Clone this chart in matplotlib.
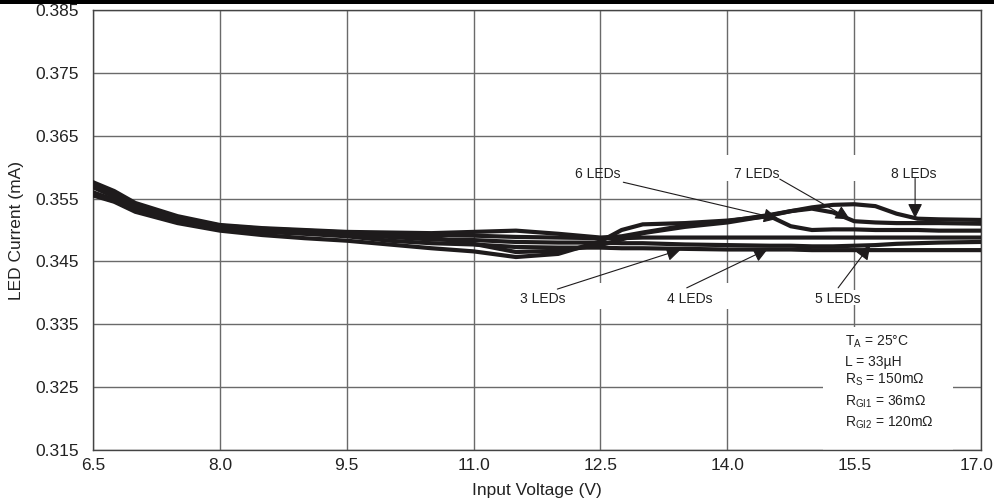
import matplotlib
matplotlib.use("Agg")
import matplotlib.pyplot as plt
from matplotlib.patches import Rectangle
from matplotlib.transforms import ScaledTranslation

plt.rcParams['font.family'] = ['Liberation Sans', 'DejaVu Sans']
plt.rcParams['mathtext.fontset'] = 'custom'
plt.rcParams['mathtext.rm'] = 'Liberation Sans'
plt.rcParams['mathtext.it'] = 'Liberation Sans'

# Input voltage sweep (V)
vin = [6.5, 6.75, 7.0, 7.5, 8.0, 8.5, 9.0, 9.5, 10.0, 10.5, 11.0, 11.5, 12.0,
       12.5, 12.75, 13.0, 13.5, 14.0, 14.5, 14.75, 15.0, 15.25, 15.5, 15.75,
       16.0, 16.25, 16.5, 17.0]

# LED current (mA) for each string length
i_3led = [0.3557, 0.3546, 0.3531, 0.3513, 0.3501, 0.3497, 0.3494, 0.3490, 0.3483,
          0.3479, 0.3477, 0.3473, 0.3472, 0.3472, 0.3471, 0.3471, 0.3470, 0.3469,
          0.3469, 0.3469, 0.3468, 0.3468, 0.3468, 0.3468, 0.3468, 0.3468, 0.3468, 0.3468]
i_4led = [0.3560, 0.3548, 0.3533, 0.3515, 0.3503, 0.3499, 0.3495, 0.3492, 0.3489,
          0.3485, 0.3484, 0.3481, 0.3480, 0.3480, 0.3479, 0.3479, 0.3477, 0.3476,
          0.3475, 0.3475, 0.3474, 0.3474, 0.3475, 0.3476, 0.3478, 0.3479, 0.3480, 0.3481]
i_5led = [0.3573, 0.3558, 0.3540, 0.3520, 0.3507, 0.3502, 0.3499, 0.3496, 0.3494,
          0.3492, 0.3491, 0.3489, 0.3488, 0.3487, 0.3487, 0.3488, 0.3488, 0.3488,
          0.3488, 0.3488, 0.3488, 0.3488, 0.3488, 0.3488, 0.3488, 0.3488, 0.3488, 0.3488]
i_6led = [0.3555, 0.3545, 0.3529, 0.3511, 0.3499, 0.3492, 0.3487, 0.3483, 0.3477,
          0.3471, 0.3466, 0.3457, 0.3462, 0.3482, 0.3500, 0.3509, 0.3511, 0.3515,
          0.3522, 0.3506, 0.3500, 0.3501, 0.3501, 0.3500, 0.3500, 0.3500, 0.3499, 0.3499]
i_7led = [0.3568, 0.3553, 0.3537, 0.3518, 0.3505, 0.3500, 0.3497, 0.3494, 0.3492,
          0.3488, 0.3478, 0.3465, 0.3467, 0.3476, 0.3485, 0.3495, 0.3505, 0.3512,
          0.3523, 0.3530, 0.3534, 0.3528, 0.3514, 0.3512, 0.3511, 0.3511, 0.3511, 0.3510]
i_8led = [0.3576, 0.3562, 0.3543, 0.3522, 0.3508, 0.3503, 0.3500, 0.3497, 0.3496,
          0.3495, 0.3497, 0.3499, 0.3494, 0.3488, 0.3490, 0.3496, 0.3507, 0.3514,
          0.3524, 0.3530, 0.3536, 0.3540, 0.3541, 0.3538, 0.3526, 0.3518, 0.3517, 0.3516]

x_ticks = [6.5, 8.0, 9.5, 11.0, 12.5, 14.0, 15.5, 17.0]
y_ticks = [0.315, 0.325, 0.335, 0.345, 0.355, 0.365, 0.375, 0.385]

conditions = [r'T$_{\mathrm{A}}$ = 25°C',
              'L = 33µH',
              r'R$_{\mathrm{S}}$ = 150mΩ',
              r'R$_{\mathrm{GI1}}$ = 36mΩ',
              r'R$_{\mathrm{GI2}}$ = 120mΩ']

ink = '#1e1b1c'
grid_c = '#6a6a6a'
txt_c = '#222222'

fig = plt.figure(figsize=(9.95, 5.01), dpi=100)
ax = fig.add_axes([0.0935, 0.1018, 0.8925, 0.8782])

for curve in (i_3led, i_4led, i_5led, i_6led, i_7led, i_8led):
    ax.plot(vin, curve, color=ink, lw=3.0, solid_joinstyle='miter', zorder=3)

ax.set_xlim(6.5, 17.0)
ax.set_ylim(0.315, 0.385)
ax.set_xticks(x_ticks)
ax.set_xticklabels([f'{v:.1f}' for v in x_ticks])
ax.set_yticks(y_ticks)
ax.set_yticklabels([f'{v:.3f}' for v in y_ticks])
ax.tick_params(axis='both', length=0, labelsize=12.5, colors=txt_c)
ax.tick_params(axis='x', pad=6)
ax.tick_params(axis='y', pad=10)
ax.grid(True, color=grid_c, lw=1.0, zorder=0)
ax.set_axisbelow(True)
for s in ax.spines.values():
    s.set_color('#444444')
    s.set_linewidth(1.0)

# keep the last x label inside the figure
last = ax.get_xticklabels()[-1]
last.set_transform(last.get_transform() + ScaledTranslation(-5 / 100, 0, fig.dpi_scale_trans))

ax.set_xlabel('Input Voltage (V)', fontsize=12.5, color=txt_c, labelpad=7)
ax.set_ylabel('LED Current (mA)', fontsize=12.5, color=txt_c, labelpad=8)

# white patches behind the curve labels break the grid lines
for x0, y0, w, h in [(13.95, 0.3578, 0.95, 0.0042), (15.40, 0.3578, 1.25, 0.0042),
                     (11.30, 0.3375, 1.35, 0.0040), (13.20, 0.3375, 1.00, 0.0040),
                     (14.95, 0.3380, 0.70, 0.0024)]:
    ax.add_patch(Rectangle((x0, y0), w, h, facecolor='white', edgecolor='none', zorder=1))

arrow = dict(arrowstyle='-|>', color=ink, lw=0.8, mutation_scale=22,
             shrinkA=0, shrinkB=0)
# (label, text centre, arrow tail, arrow tip)
labels = [('6 LEDs', (12.47, 0.3589), (12.77, 0.3576), (14.60, 0.3518)),
          ('7 LEDs', (14.35, 0.3589), (14.62, 0.3581), (15.45, 0.3517)),
          ('8 LEDs', (16.20, 0.3589), (16.22, 0.3582), (16.22, 0.3519)),
          ('3 LEDs', (11.82, 0.3390), (11.99, 0.3406), (13.45, 0.3469)),
          ('4 LEDs', (13.56, 0.3391), (13.52, 0.3408), (14.48, 0.3470)),
          ('5 LEDs', (15.31, 0.3391), (15.31, 0.3408), (15.69, 0.3476))]
for txt, tpos, tail, tip in labels:
    ax.text(*tpos, txt, fontsize=10, ha='center', va='center', color=txt_c, zorder=5)
    ax.annotate('', xy=tip, xytext=tail, arrowprops=arrow, zorder=4)

# test-condition box in the lower right corner
ax.add_patch(Rectangle((0.822, 0.0), 0.146, 0.2795, transform=ax.transAxes,
                       facecolor='white', edgecolor='none', zorder=1))
for txt, yf in zip(conditions, [0.246, 0.2007, 0.159, 0.110, 0.061]):
    ax.text(0.847, yf, txt, transform=ax.transAxes, fontsize=10, ha='left',
            va='center', color=txt_c, zorder=5)

# thin dark strip along the top edge
fig.add_artist(Rectangle((0, 0.992), 1, 0.008, transform=fig.transFigure,
                         facecolor='black', edgecolor='none'))

fig.savefig('out.png', dpi=100)
